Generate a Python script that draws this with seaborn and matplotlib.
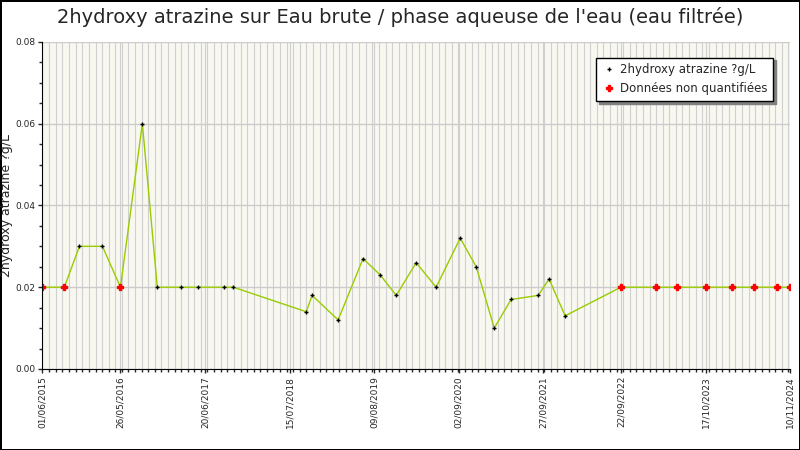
import matplotlib
matplotlib.use("Agg")
import matplotlib.pyplot as plt
import matplotlib.dates as mdates
import seaborn as sns
import pandas as pd
import numpy as np

dates = ["2015-06-01","2015-09-10","2015-11-19","2016-03-04","2016-05-26","2016-09-04","2016-11-12",
         "2017-03-03","2017-05-20","2017-09-17","2017-10-29","2018-09-30","2018-10-27","2019-02-24",
         "2019-06-19","2019-09-06","2019-11-19","2020-02-19","2020-05-21","2020-09-09","2020-11-22",
         "2021-02-13","2021-05-02","2021-09-04","2021-10-24","2022-01-06","2022-09-20","2023-03-02",
         "2023-06-07","2023-10-18","2024-02-15","2024-05-27","2024-09-10","2024-11-08"]
values = [0.02,0.02,0.03,0.03,0.02,0.06,0.02,0.02,0.02,0.02,0.02,0.014,0.018,0.012,0.027,0.023,0.018,
          0.026,0.02,0.032,0.025,0.010,0.017,0.018,0.022,0.013,0.02,0.02,0.02,0.02,0.02,0.02,0.02,0.02]
nonquant = [1,1,0,0,1,0,0,0,0,0,0,0,0,0,0,0,0,0,0,0,0,0,0,0,0,0,1,1,1,1,1,1,1,1]
tick_labels = ["01/06/2015","26/05/2016","20/06/2017","15/07/2018","09/08/2019","02/09/2020",
               "27/09/2021","22/09/2022","17/10/2023","10/11/2024"]

df = pd.DataFrame({"date": pd.to_datetime(dates), "val": values, "nq": nonquant})

sns.set_style("white")
plt.rcParams['font.family'] = ['DejaVu Sans']
fig = plt.figure(figsize=(8, 4.5), dpi=100)
ax = fig.add_axes([0.053, 0.18, 0.935, 0.727])
ax.set_facecolor("#f8f8f0")

sns.lineplot(data=df, x="date", y="val", ax=ax, color="#99cc00", lw=1)
q = df[df.nq == 0]
n = df[df.nq == 1]
ax.plot(q.date, q.val, ls="none", marker="+", ms=3, mew=1, color="black", label="2hydroxy atrazine ?g/L")
ax.plot(n.date, n.val, ls="none", marker="P", ms=4.5, color="red", mec="red", label="Données non quantifiées")

tdates = pd.to_datetime(tick_labels, format="%d/%m/%Y")
ax.set_xlim(pd.Timestamp("2015-06-01"), pd.Timestamp("2024-11-10"))
ax.set_ylim(0, 0.08)
ax.set_xticks(tdates)
ax.set_xticklabels(tick_labels, rotation=90, fontsize=6.5)
ax.xaxis.set_minor_locator(mdates.MonthLocator())
ax.set_yticks([0, 0.02, 0.04, 0.06, 0.08])
ax.set_yticklabels(["0.00","0.02","0.04","0.06","0.08"], fontsize=6.5)
ax.yaxis.set_minor_locator(matplotlib.ticker.MultipleLocator(0.005))
ax.grid(which="major", axis="y", color="#cccccc", lw=1)
ax.grid(which="minor", axis="x", color="#d0d0d0", lw=0.8)
ax.grid(which="major", axis="x", color="#d0d0d0", lw=0.8)
ax.tick_params(which="both", direction="out", length=3, width=1, bottom=True, left=True, pad=2)
ax.tick_params(which="minor", length=2)
for s in ["top", "right"]:
    ax.spines[s].set_visible(False)
for s in ["left", "bottom"]:
    ax.spines[s].set_color("black")
ax.set_xlabel("")
ax.set_ylabel("2hydroxy atrazine ?g/L", fontsize=9, labelpad=2)
fig.suptitle("2hydroxy atrazine sur Eau brute / phase aqueuse de l'eau (eau filtrée)", fontsize=14, y=0.985)
leg = ax.legend(loc="upper right", bbox_to_anchor=(0.985, 0.97), fontsize=8.5, frameon=True, fancybox=False,
                shadow={"color": "gray", "alpha": 1}, edgecolor="black", borderpad=0.5,
                handletextpad=0.3, handlelength=1.2)
leg.get_frame().set_linewidth(1)
fig.patch.set_edgecolor("black")
fig.patch.set_linewidth(1)
fig.savefig("out.png", dpi=100, edgecolor=fig.get_edgecolor())
